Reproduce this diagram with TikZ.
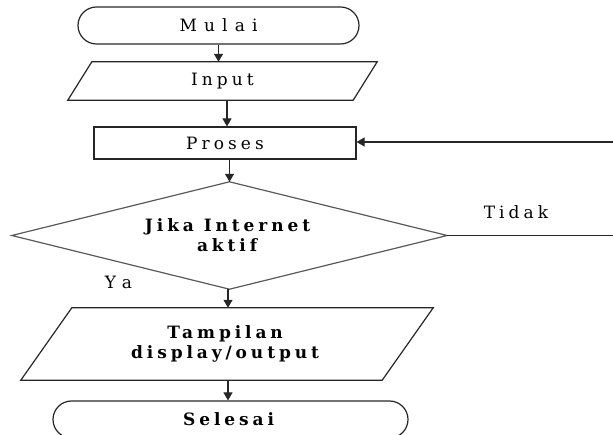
\documentclass[tikz,border=0pt]{standalone}
\usepackage{fontspec}
\setmainfont[LetterSpace=24,BoldFeatures={LetterSpace=23}]{DejaVu Serif}
\newfontfamily\widefont[LetterSpace=42]{DejaVu Serif}
\usetikzlibrary{shapes.misc,arrows.meta}
\begin{document}
\begin{tikzpicture}[x=1pt,y=-1pt,
  every node/.style={font=\fontsize{17}{20}\selectfont, align=center, inner sep=0pt},
  line/.style={draw=black!85, line width=1.2pt},
  term/.style={line, rounded rectangle},
  procbox/.style={line, rectangle},
  iobox/.style={rectangle},
  arr/.style={line width=1.2pt, draw=black!85, -{Triangle[width=9pt,length=8pt]}},
  lbl/.style={font=\fontsize{17}{18}\selectfont}
]
\useasboundingbox (0,0) rectangle (613,435);

\node[term, minimum width=281, minimum height=37] (mulai) at (218.5,25.5) {\widefont Mulai};

\node[iobox, minimum width=309, minimum height=38] (input) at (222.5,81) {Input};
\draw[line] ([xshift=24]input.north west) -- (input.north east) -- ([xshift=-24]input.south east) -- (input.south west) -- cycle;

\node[procbox, minimum width=262, minimum height=32] (proses) at (225,143) {Proses};

\node[rectangle, minimum width=435, minimum height=107] (jika) at (229.5,235.5) {\textbf{Jika Internet}\\\textbf{aktif}};
\draw[draw=black!65, line width=1.2pt] (jika.north) -- (jika.east) -- (jika.south) -- (jika.west) -- cycle;

\node[iobox, minimum width=412, minimum height=72] (output) at (227,344) {\textbf{Tampilan}\\\textbf{display/output}};
\draw[line] ([xshift=51]output.north west) -- (output.north east) -- ([xshift=-51]output.south east) -- (output.south west) -- cycle;

\node[term, minimum width=355, minimum height=37] (selesai) at (230.5,419.5) {\textbf{Selesai}};

\coordinate (rin) at (613,142);
\coordinate (rout) at (613,235.5);

\draw[arr] (mulai.south) -- (mulai.south |- input.north);
\draw[arr] (227,0 |- input.south) -- (227,0 |- proses.north);
\draw[arr] (proses.south -| jika.north) -- (jika.north);
\draw[arr] (228,0 |- jika.south) -- (228,0 |- output.north);
\draw[arr] (228,0 |- output.south) -- (228,0 |- selesai.north);
\draw[arr] (rin) -- (rin -| proses.east);
\draw[line] (jika.east) -- (rout);

\node[lbl] (tidak) at (516,212) {Tidak};
\node[lbl, font=\widefont\fontsize{17}{18}\selectfont] (ya) at (118.5,282) {Ya};
\end{tikzpicture}
\end{document}
